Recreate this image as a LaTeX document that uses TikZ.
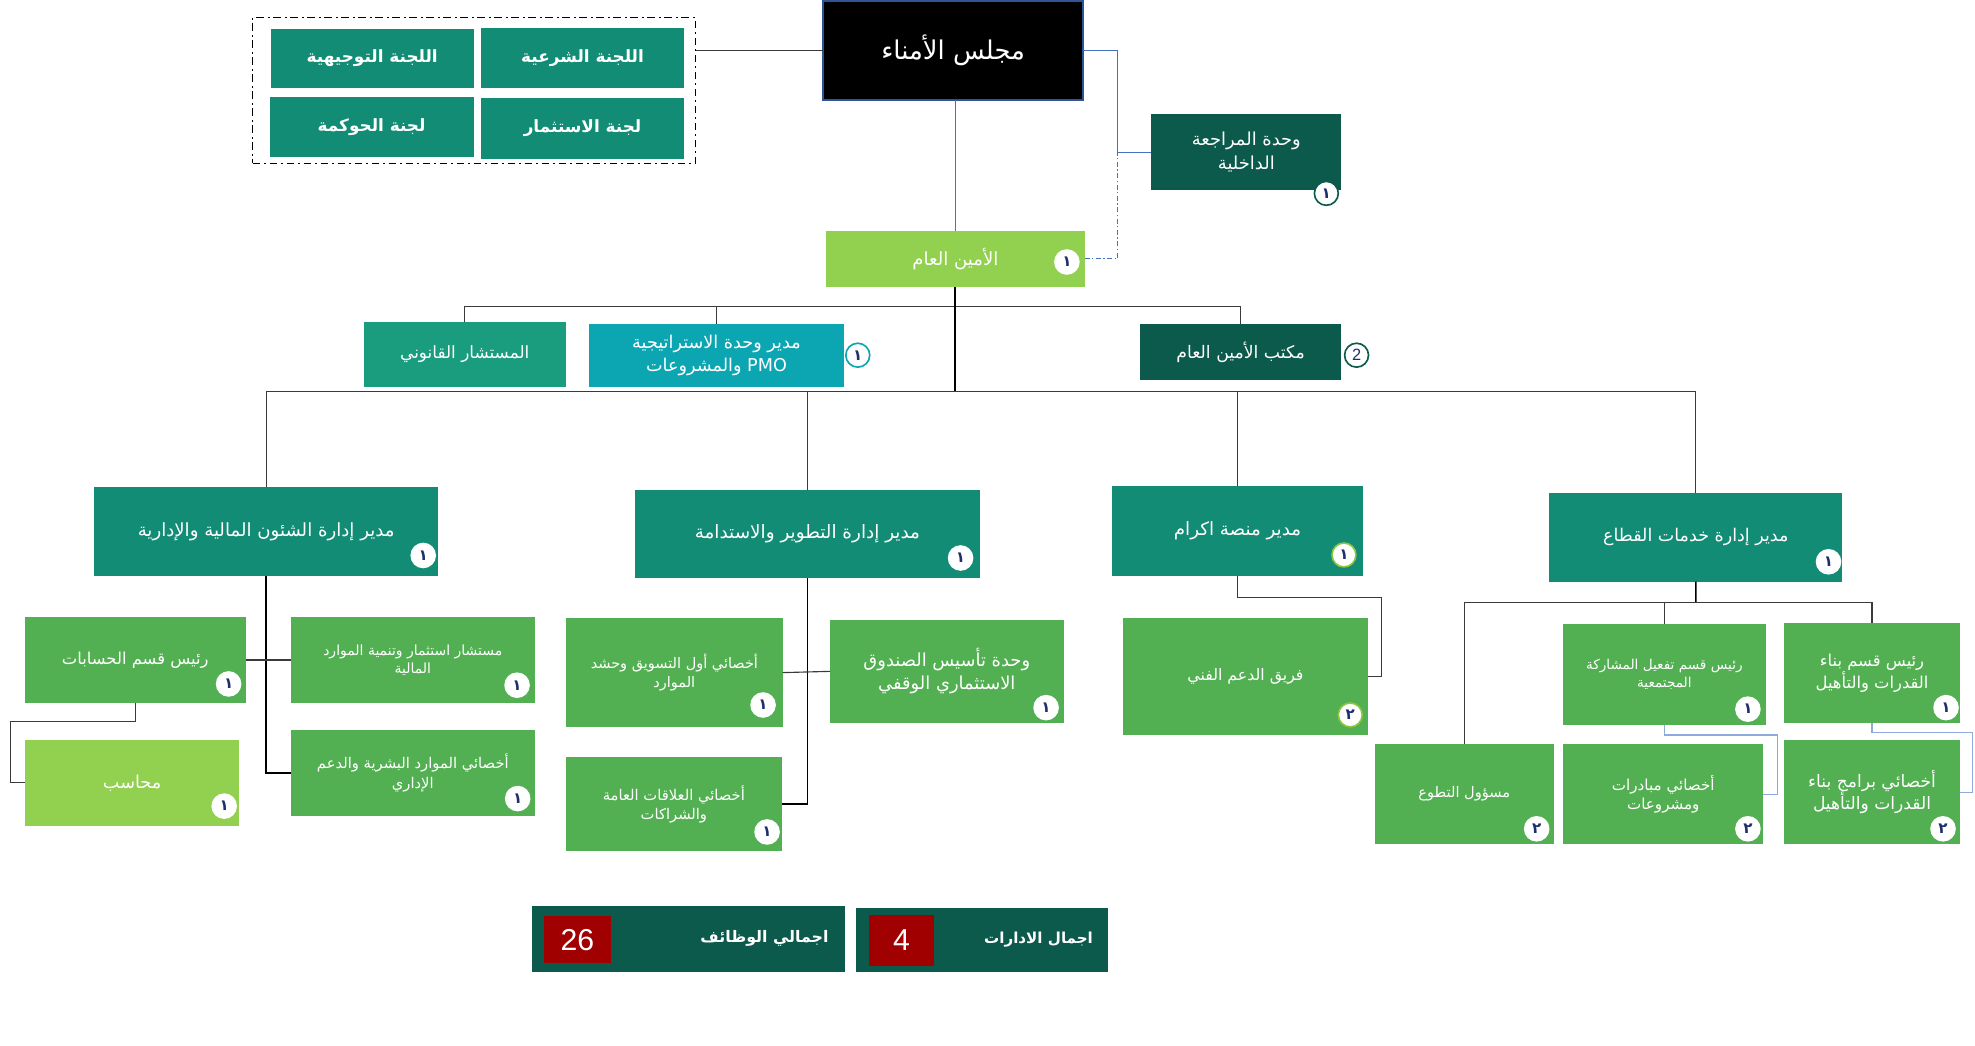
\documentclass[tikz,border=0pt]{standalone}
\usepackage{fontspec}
\setmainfont{Liberation Sans}
\newfontfamily\ar[Script=Arabic]{DejaVu Sans}
\TeXXeTstate=1
\newcommand{\rl}[1]{\beginR #1\endR}
\newcommand{\fs}[1]{\pgfmathsetmacro{\fsb}{#1*1.3}\fontsize{#1}{\fsb}\selectfont}
\definecolor{cteal}{HTML}{128C75}
\definecolor{clegal}{HTML}{1A9C7F}
\definecolor{cpmo}{HTML}{0CA6B2}
\definecolor{cdark}{HTML}{0B5A4C}
\definecolor{cgreen}{HTML}{52B052}
\definecolor{clime}{HTML}{92D050}
\definecolor{cred}{HTML}{A00000}
\definecolor{cnavy}{HTML}{1F2F6E}
\definecolor{cboard}{HTML}{2F5597}
\definecolor{cline}{HTML}{3A3A3A}
\definecolor{cblue}{HTML}{4472C4}
\definecolor{clblue}{HTML}{8EA9DB}
\definecolor{cring}{HTML}{8CC63F}
\newcommand{\mybox}[7]{%
  \pgfmathsetmacro{\cxx}{(#2+#4)/2}%
  \pgfmathsetmacro{\cyy}{(#3+#5)/2}%
  \pgfmathsetmacro{\www}{#4-#2}%
  \pgfmathsetmacro{\hhh}{#5-#3}%
  \node[#6, minimum width=\www pt, minimum height=\hhh pt] (#1) at (\cxx,\cyy) {#7};}
\newcommand{\badge}[5]{\node[bdg, draw=#4] (#1) at (#2,#3) {#5};}
\tikzset{
  bx/.style={inner sep=2pt, outer sep=0pt, text=white, align=center},
  tealbox/.style={bx, fill=cteal},
  darkbox/.style={bx, fill=cdark},
  greenbox/.style={bx, fill=cgreen},
  limebox/.style={bx, fill=clime},
  redbox/.style={bx, fill=cred, font=\fs{24}},
  bdg/.style={circle, fill=white, minimum size=19pt, inner sep=0pt, text=cnavy, line width=1.3pt, font=\ar\bfseries\fs{12}},
  conn/.style={draw=cline, line width=0.9pt},
  trunk/.style={draw=black, line width=1.6pt},
  blu/.style={draw=cblue, line width=0.8pt},
  lblu/.style={draw=clblue, line width=1pt},
}
\begin{document}
\begin{tikzpicture}[x=1pt,y=-1pt]
\useasboundingbox (0,0) rectangle (1568,830);
\fill[white] (0,0) rectangle (1568,830);

% committees
\mybox{dash}{200.6}{14}{552.2}{129.7}{draw=black, line width=1.2pt, dash pattern=on 6pt off 3pt on 1.5pt off 3pt}{}
\mybox{c1}{215}{23}{376}{70}{tealbox, font=\ar\bfseries\fs{13.4}}{\rl{اللجنة التوجيهية}}
\mybox{c2}{382}{22}{543}{70}{tealbox, font=\ar\bfseries\fs{13.4}}{\rl{اللجنة الشرعية}}
\mybox{c3}{214}{77}{376}{125}{tealbox, font=\ar\bfseries\fs{13.4}}{\rl{لجنة  الحوكمة}}
\mybox{c4}{382}{78}{543}{126}{tealbox, font=\ar\bfseries\fs{13.4}}{\rl{لجنة الاستثمار}}

% board
\mybox{board}{653.5}{1}{860}{79.5}{bx, fill=black, draw=cboard, line width=1.8pt, font=\ar\fs{20.5}}{\rl{مجلس الأمناء}}
\draw[conn] (board.west) -- (board.west -| dash.east);

% audit
\mybox{audit}{914}{90.5}{1065}{151}{darkbox, font=\ar\fs{14.2}}{\rl{وحدة المراجعة}\\\rl{الداخلية}}
\badge{baudit}{1053}{153.5}{cdark}{١}

% secretary general
\mybox{gs}{656}{183}{861}{228}{limebox, font=\ar\fs{14.4}}{\rl{الأمين العام}}
\badge{bgs}{847}{208}{white}{١}
\coordinate (ja) at (887,120.75);
\draw[blu] (board.east) -| (ja) -- (audit.west);
\draw[blu, dash pattern=on 4pt off 2pt on 1pt off 2pt] (gs.east) -| (ja);
\draw[blu] (gs.north) -- (gs.north |- board.south);

% staff row
\mybox{legal}{289}{255.7}{449}{307}{bx, fill=clegal, font=\ar\fs{13.4}}{\rl{المستشار القانوني}}
\mybox{pmo}{467.7}{257}{670}{307}{bx, fill=cpmo, font=\ar\fs{14}}{\rl{مدير وحدة الاستراتيجية}\\\rl{\beginL PMO\endL{} والمشروعات}}
\badge{bpmo}{681}{282}{cpmo}{١}
\mybox{office}{905}{257}{1065}{302}{darkbox, font=\ar\fs{13.7}}{\rl{مكتب الأمين العام}}
\node[bdg, draw=cdark, font=\fs{13}] (boffice) at (1077,282) {2};
\draw[conn] (legal.north) -- ++(0,-12.2) -| (office.north);
\coordinate (sh) at (758.5,243.5);
\draw[conn] (pmo.north) -- (pmo.north |- sh);

% directors
\mybox{d1}{74.6}{387}{348}{457}{tealbox, font=\ar\fs{14.4}}{\rl{مدير إدارة  الشئون المالية والإدارية}}
\mybox{d2}{504}{389}{778}{459}{tealbox, font=\ar\fs{14.6}}{\rl{مدير إدارة  التطوير والاستدامة}}
\mybox{d3}{883}{386}{1082}{457}{tealbox, font=\ar\fs{14.5}}{\rl{مدير منصة اكرام}}
\mybox{d4}{1230}{391.6}{1462.7}{461.8}{tealbox, font=\ar\fs{13.9}}{\rl{مدير إدارة خدمات القطاع}}
\badge{bd1}{336}{441}{white}{١}
\badge{bd2}{762.6}{443}{white}{١}
\badge{bd3}{1067}{440.6}{cring}{١}
\badge{bd4}{1451.7}{446}{white}{١}
\coordinate (dl) at (758.5,311);
\draw[trunk] (gs.south) -- (dl);
\draw[conn] (d1.north) -- (d1.north |- dl) -- (d4.north |- dl) -- (d4.north);
\draw[conn] (d2.north) -- (d2.north |- dl);
\draw[conn] (d3.north) -- (d3.north |- dl);

% finance children
\mybox{acc}{19.8}{490}{195}{558}{greenbox, font=\ar\fs{13}}{\rl{رئيس قسم الحسابات}}
\mybox{inv}{231}{490}{424.5}{558}{greenbox, font=\ar\fs{11.1}}{\rl{مستشار  استثمار وتنمية الموارد}\\\rl{المالية}}
\mybox{hr}{231}{579.6}{424.5}{647.6}{greenbox, font=\ar\fs{11.7}}{\rl{أخصائي  الموارد البشرية والدعم}\\\rl{الإداري}}
\mybox{accnt}{19.8}{587.5}{190}{655.5}{limebox, font=\ar\fs{14}}{\rl{محاسب}}
\badge{bacc}{181.5}{543}{white}{١}
\badge{binv}{410.5}{544}{white}{١}
\badge{bhr}{411}{634}{white}{١}
\badge{baccnt}{178}{640}{white}{١}
\draw[trunk, line width=1.2pt] (d1.south) |- (hr.west);
\draw[conn] (acc.east) -- (inv.west);
\draw[conn] (acc.south) -- ++(0,15) -- ++(-98.9,0) |- (accnt.west);

% development children
\mybox{mkt}{449.4}{491}{621.4}{577}{greenbox, font=\ar\fs{11.5}}{\rl{أخصائي أول التسويق وحشد}\\\rl{الموارد}}
\mybox{fund}{659}{492}{844.4}{574}{greenbox, font=\ar\fs{14.2}}{\rl{وحدة تأسيس  الصندوق}\\\rl{الاستثماري الوقفي}}
\mybox{pr}{449}{601}{621}{676}{greenbox, font=\ar\fs{11.7}}{\rl{أخصائي  العلاقات العامة}\\\rl{والشراكات}}
\badge{bmkt}{605.8}{559.7}{white}{١}
\badge{bfund}{830.5}{561.8}{white}{١}
\badge{bpr}{609}{660.5}{white}{١}
\draw[trunk, line width=1.2pt] (d2.south) |- (pr.east);
\draw[conn] (mkt.east) -- (fund.west);

% ikram children
\mybox{tech}{891.6}{490.6}{1086}{583.5}{greenbox, font=\ar\fs{12.5}}{\rl{فريق الدعم الفني}}
\badge{btech}{1072}{567.6}{cring}{٢}
\draw[conn] (d3.south) -- ++(0,17.5) -- ++(114.5,0) |- (tech.east);

% sector services children
\mybox{vol}{1091.6}{590.7}{1233.5}{670.3}{greenbox, font=\ar\fs{11.6}}{\rl{مسؤول التطوع}}
\mybox{comm}{1241}{495.4}{1401.7}{575.6}{greenbox, font=\ar\fs{10.8}}{\rl{رئيس قسم تفعيل المشاركة}\\\rl{المجتمعية}}
\mybox{cap}{1416.5}{494.9}{1556}{574.3}{greenbox, font=\ar\fs{13}}{\rl{رئيس قسم بناء}\\\rl{القدرات والتأهيل}}
\mybox{init}{1241}{590.7}{1400}{670.3}{greenbox, font=\ar\fs{12}}{\rl{أخصائي مبادرات}\\\rl{ومشروعات}}
\mybox{prog}{1416.5}{587.5}{1556}{670.3}{greenbox, font=\ar\fs{13.6}}{\rl{أخصائي برامج بناء}\\\rl{القدرات والتأهيل}}
\badge{bvol}{1220}{658}{white}{٢}
\badge{bcomm}{1387.7}{563}{white}{١}
\badge{bcap}{1545}{561.8}{white}{١}
\badge{binit}{1387.7}{658}{white}{٢}
\badge{bprog}{1542.6}{658}{white}{٢}
\coordinate (sl) at (1346.4,478.5);
\draw[trunk, line width=1.2pt] (d4.south) -- (sl);
\draw[conn] (vol.north) -- (vol.north |- sl) -| (cap.north);
\draw[conn] (comm.north) -- (comm.north |- sl);
\draw[lblu] (comm.south) -- ++(0,8) -- ++(90,0) |- (init.east);
\draw[lblu] (cap.south) -- ++(0,7.1) -- ++(80,0) |- (prog.east);

% totals
\mybox{tj}{422.3}{719.3}{670.8}{771.4}{darkbox}{}
\mybox{r1}{432}{727.2}{484.8}{764.8}{redbox}{26}
\node[text=white, font=\ar\bfseries\fs{12.6}] (tjt) at (607,745) {\rl{اجمالي الوظائف}};
\mybox{td}{679.6}{720.9}{879.8}{771.4}{darkbox}{}
\mybox{r2}{690}{726.4}{741.3}{766.7}{redbox}{4}
\node[text=white, font=\ar\bfseries\fs{12}] (tdt) at (824.5,746) {\rl{اجمال الادارات}};
\end{tikzpicture}
\end{document}
